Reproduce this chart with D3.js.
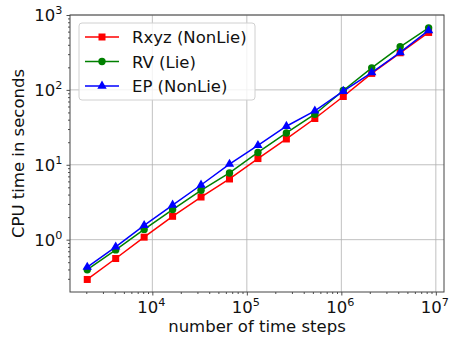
<!DOCTYPE html>
<html>
<head>
<meta charset="utf-8">
<script src="https://cdn.jsdelivr.net/npm/d3@7"></script>
<style>
  body { margin: 0; background: #fff; }
  svg { font-family: "DejaVu Sans", sans-serif; }
</style>
</head>
<body>
<svg id="chart"></svg>
<script>
const width = 450;
const height = 337;
const margin = { top: 15, right: 6, bottom: 45, left: 70 };

// number of time steps: 2^11 ... 2^23
const steps = [2048, 4096, 8192, 16384, 32768, 65536, 131072, 262144, 524288,
  1048576, 2097152, 4194304, 8388608];

const rxyz = [0.294, 0.56, 1.08, 2.05, 3.71, 6.46, 12.1, 22.1, 41.5, 81.6, 166, 313, 585];
const rv = [0.397, 0.73, 1.37, 2.52, 4.56, 7.77, 14.6, 26.6, 47.3, 98, 197, 376, 674];
const ep = [0.43, 0.80, 1.55, 2.9, 5.37, 10.2, 18.2, 32.7, 52.4, 96, 170, 316, 622];

const seriesNames = ["Rxyz (NonLie)", "RV (Lie)", "EP (NonLie)"];
const seriesColors = ["#ff0000", "#008000", "#0000ff"];
const seriesMarkers = ["square", "circle", "triangle"];
const seriesValues = [rxyz, rv, ep];

const xTicks = [1e4, 1e5, 1e6, 1e7];
const yTicks = [1e0, 1e1, 1e2, 1e3];

const fontSize = 16.5;

const svg = d3.select("#chart").attr("width", width).attr("height", height);

const x = d3.scaleLog()
  .domain([1345, 1.22e7])
  .range([margin.left, width - margin.right]);

const y = d3.scaleLog()
  .domain([0.2, 1000])
  .range([height - margin.bottom, margin.top]);

// minor ticks
const minorX = [];
for (let e = 3; e <= 7; e++) for (let k = 2; k <= 9; k++) {
  const v = k * Math.pow(10, e);
  if (v > x.domain()[0] && v < x.domain()[1]) minorX.push(v);
}
const minorY = [];
for (let e = -1; e <= 2; e++) for (let k = 2; k <= 9; k++) {
  const v = k * Math.pow(10, e);
  if (v > y.domain()[0] && v < y.domain()[1]) minorY.push(v);
}

// grid
svg.append("g")
  .selectAll("line")
  .data(xTicks)
  .join("line")
  .attr("x1", d => x(d)).attr("x2", d => x(d))
  .attr("y1", margin.top).attr("y2", height - margin.bottom)
  .attr("stroke", "#b0b0b0").attr("stroke-width", 0.8);

svg.append("g")
  .selectAll("line")
  .data(yTicks)
  .join("line")
  .attr("x1", margin.left).attr("x2", width - margin.right)
  .attr("y1", d => y(d)).attr("y2", d => y(d))
  .attr("stroke", "#b0b0b0").attr("stroke-width", 0.8);

// axes
const xAxis = d3.axisBottom(x).tickValues(xTicks).tickSize(3.5).tickFormat(() => "");
const xMinor = d3.axisBottom(x).tickValues(minorX).tickSize(2).tickFormat(() => "");
const yAxis = d3.axisLeft(y).tickValues(yTicks).tickSize(3.5).tickFormat(() => "");
const yMinor = d3.axisLeft(y).tickValues(minorY).tickSize(2).tickFormat(() => "");

svg.append("g").attr("transform", `translate(0,${height - margin.bottom})`).call(xAxis);
svg.append("g").attr("transform", `translate(0,${height - margin.bottom})`).call(xMinor);
svg.append("g").attr("transform", `translate(${margin.left},0)`).call(yAxis);
svg.append("g").attr("transform", `translate(${margin.left},0)`).call(yMinor);
svg.selectAll(".domain").remove();
svg.selectAll(".tick line").attr("stroke", "#222").attr("stroke-width", 0.8);

// tick labels: 10 with superscript exponent
function powerLabel(sel) {
  sel.append("tspan").text("10");
  sel.append("tspan")
    .attr("font-size", fontSize * 0.68)
    .attr("dy", -fontSize * 0.42)
    .text(d => Math.round(Math.log10(d)));
}

svg.append("g")
  .selectAll("text")
  .data(xTicks)
  .join("text")
  .attr("x", d => x(d) - 1)
  .attr("y", height - margin.bottom + 21)
  .attr("text-anchor", "middle")
  .attr("font-size", fontSize)
  .attr("fill", "#111")
  .call(powerLabel);

svg.append("g")
  .selectAll("text")
  .data(yTicks)
  .join("text")
  .attr("x", margin.left - 7.5)
  .attr("y", d => y(d) + 6)
  .attr("text-anchor", "end")
  .attr("font-size", fontSize)
  .attr("fill", "#111")
  .call(powerLabel);

// frame
svg.append("rect")
  .attr("x", margin.left).attr("y", margin.top)
  .attr("width", width - margin.left - margin.right)
  .attr("height", height - margin.top - margin.bottom)
  .attr("fill", "none").attr("stroke", "#444").attr("stroke-width", 1);

// axis labels
svg.append("text")
  .attr("x", (margin.left + width - margin.right) / 2)
  .attr("y", height - 5)
  .attr("text-anchor", "middle")
  .attr("font-size", fontSize)
  .attr("fill", "#111")
  .text("number of time steps");

svg.append("text")
  .attr("transform", `translate(24,${(margin.top + height - margin.bottom) / 2}) rotate(-90)`)
  .attr("text-anchor", "middle")
  .attr("font-size", fontSize)
  .attr("fill", "#111")
  .text("CPU time in seconds");

function drawMarker(g, type, color, cx, cy) {
  if (type === "square") {
    g.append("rect").attr("x", cx - 3.5).attr("y", cy - 3.5).attr("width", 7).attr("height", 7).attr("fill", color);
  } else if (type === "circle") {
    g.append("circle").attr("cx", cx).attr("cy", cy).attr("r", 3.7).attr("fill", color);
  } else {
    g.append("path").attr("d", d3.symbol(d3.symbolTriangle, 38)()).attr("transform", `translate(${cx},${cy})`).attr("fill", color);
  }
}

const line = d3.line().x(d => x(d[0])).y(d => y(d[1]));

seriesValues.forEach((vals, i) => {
  const pts = steps.map((s, j) => [s, vals[j]]);
  const g = svg.append("g");
  g.append("path")
    .datum(pts)
    .attr("d", line)
    .attr("fill", "none")
    .attr("stroke", seriesColors[i])
    .attr("stroke-width", 1.5);
  pts.forEach(p => drawMarker(g, seriesMarkers[i], seriesColors[i], x(p[0]), y(p[1])));
});

// legend
const legend = svg.append("g").attr("transform", "translate(79,23)");
legend.append("rect")
  .attr("width", 176).attr("height", 77).attr("rx", 3)
  .attr("fill", "#fff").attr("fill-opacity", 0.8)
  .attr("stroke", "#d0d0d0").attr("stroke-width", 1);

seriesNames.forEach((name, i) => {
  const ly = 14 + i * 24.5;
  legend.append("line")
    .attr("x1", 6).attr("x2", 40).attr("y1", ly).attr("y2", ly)
    .attr("stroke", seriesColors[i]).attr("stroke-width", 1.5);
  drawMarker(legend, seriesMarkers[i], seriesColors[i], 23, ly);
  legend.append("text")
    .attr("x", 53).attr("y", ly + 6)
    .attr("font-size", fontSize)
    .attr("fill", "#111")
    .text(name);
});
</script>
</body>
</html>
